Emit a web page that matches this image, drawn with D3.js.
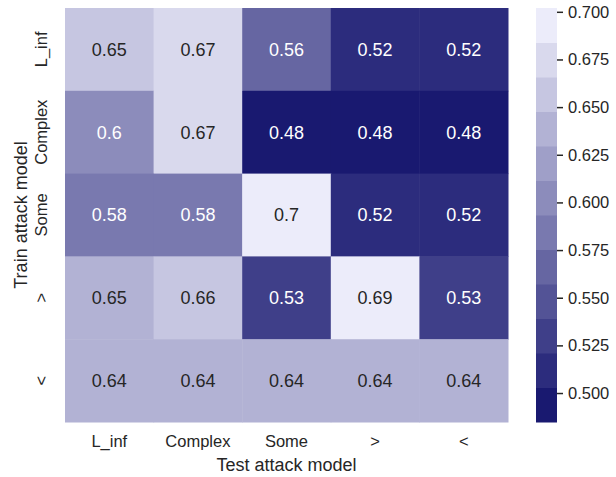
<!DOCTYPE html>
<html>
<head>
<meta charset="utf-8">
<script src="https://cdn.jsdelivr.net/npm/d3@7"></script>
<style>
  html, body { margin: 0; padding: 0; background: #fff; }
  svg { display: block; font-family: "Liberation Sans", Arial, sans-serif; }
</style>
</head>
<body>
<svg id="chart" width="616" height="477"></svg>
<script>
// Train (rows) vs test (columns) attack models
const testModels = ["L_inf", "Complex", "Some", ">", "<"];
const trainModels = ["L_inf", "Complex", "Some", ">", "<"];

// accuracy per train model (row), one entry per test model
const rowLinf    = [0.652, 0.671, 0.562, 0.518, 0.518];
const rowComplex = [0.601, 0.671, 0.4848, 0.4848, 0.4848];
const rowSome    = [0.581, 0.581, 0.702, 0.518, 0.518];
const rowGt      = [0.646, 0.658, 0.531, 0.688, 0.531];
const rowLt      = [0.641, 0.641, 0.641, 0.641, 0.641];
const rows = [rowLinf, rowComplex, rowSome, rowGt, rowLt];

const colorbarTicks = [0.500, 0.525, 0.550, 0.575, 0.600, 0.625, 0.650, 0.675, 0.700];
const nColors = 12;

const cellData = [];
rows.forEach((r, i) => r.forEach((v, j) => cellData.push({ i, j, value: v })));

const svg = d3.select("#chart");
const plot = { left: 65, right: 508, top: 8, bottom: 422 };
const textDark = "#262626";

const x = d3.scaleBand().domain(d3.range(testModels.length)).range([plot.left, plot.right]);
const y = d3.scaleBand().domain(d3.range(trainModels.length)).range([plot.top, plot.bottom]);

// discrete light palette: midnightblue -> pale lavender
const dark = d3.rgb(25, 25, 112), light = d3.rgb(236, 236, 250);
const mix = d3.interpolateRgb(dark, light);
const palette = d3.range(nColors).map(i => mix(i / (nColors - 1)));
const [vmin, vmax] = d3.extent(cellData, d => d.value);
const color = d3.scaleQuantize().domain([vmin, vmax]).range(palette);

// pick light or dark annotation text from the cell's luminance
function luminance(c) {
  const rgb = d3.rgb(c);
  const lin = v => { v /= 255; return v <= 0.03928 ? v / 12.92 : Math.pow((v + 0.055) / 1.055, 2.4); };
  return 0.2126 * lin(rgb.r) + 0.7152 * lin(rgb.g) + 0.0722 * lin(rgb.b);
}

const fmt = d3.format(".2");

const g = svg.append("g");
g.selectAll("rect.cell").data(cellData).join("rect")
  .attr("class", "cell")
  .attr("x", d => x(d.j))
  .attr("y", d => y(d.i))
  .attr("width", x.bandwidth() + 0.5)
  .attr("height", y.bandwidth() + 0.5)
  .attr("fill", d => color(d.value));

g.selectAll("text.annot").data(cellData).join("text")
  .attr("class", "annot")
  .attr("x", d => x(d.j) + x.bandwidth() / 2)
  .attr("y", d => y(d.i) + y.bandwidth() / 2)
  .attr("text-anchor", "middle")
  .attr("dy", "0.35em")
  .attr("font-size", 18)
  .attr("fill", d => luminance(color(d.value)) > 0.408 ? textDark : "#ffffff")
  .text(d => fmt(d.value));

// x tick labels
svg.append("g").selectAll("text").data(testModels).join("text")
  .attr("x", (d, j) => x(j) + x.bandwidth() / 2)
  .attr("y", 447)
  .attr("text-anchor", "middle")
  .attr("font-size", 16.5)
  .attr("fill", textDark)
  .text(d => d);

// y tick labels (rotated)
svg.append("g").selectAll("text").data(trainModels).join("text")
  .attr("transform", (d, i) => `translate(47,${y(i) + y.bandwidth() / 2}) rotate(-90)`)
  .attr("text-anchor", "middle")
  .attr("font-size", 16.5)
  .attr("fill", textDark)
  .text(d => d);

// axis titles
svg.append("text")
  .attr("x", (plot.left + plot.right) / 2)
  .attr("y", 471)
  .attr("text-anchor", "middle")
  .attr("font-size", 18)
  .attr("fill", textDark)
  .text("Test attack model");

svg.append("text")
  .attr("transform", `translate(27,${(plot.top + plot.bottom) / 2}) rotate(-90)`)
  .attr("text-anchor", "middle")
  .attr("font-size", 18)
  .attr("fill", textDark)
  .text("Train attack model");

// colorbar
const cb = { x: 536, w: 21 };
const cy = d3.scaleLinear().domain([vmin, vmax]).range([plot.bottom, plot.top]);
const binEdges = color.thresholds();
const bins = palette.map((c, i) => ({
  c,
  lo: i === 0 ? vmin : binEdges[i - 1],
  hi: i === nColors - 1 ? vmax : binEdges[i]
}));
svg.append("g").selectAll("rect").data(bins).join("rect")
  .attr("x", cb.x)
  .attr("width", cb.w)
  .attr("y", d => cy(d.hi))
  .attr("height", d => cy(d.lo) - cy(d.hi) + 0.5)
  .attr("fill", d => d.c);

const cbAxis = d3.axisRight(cy).tickValues(colorbarTicks).tickFormat(d3.format(".3f")).tickSize(6).tickPadding(5);
const axG = svg.append("g").attr("transform", `translate(${cb.x + cb.w},0)`).call(cbAxis);
axG.select(".domain").remove();
axG.selectAll(".tick line").attr("stroke", textDark).attr("stroke-width", 1.5);
axG.selectAll(".tick text").attr("fill", textDark).attr("font-size", 16.5)
  .attr("font-family", "'Liberation Sans', Arial, sans-serif");
</script>
</body>
</html>
